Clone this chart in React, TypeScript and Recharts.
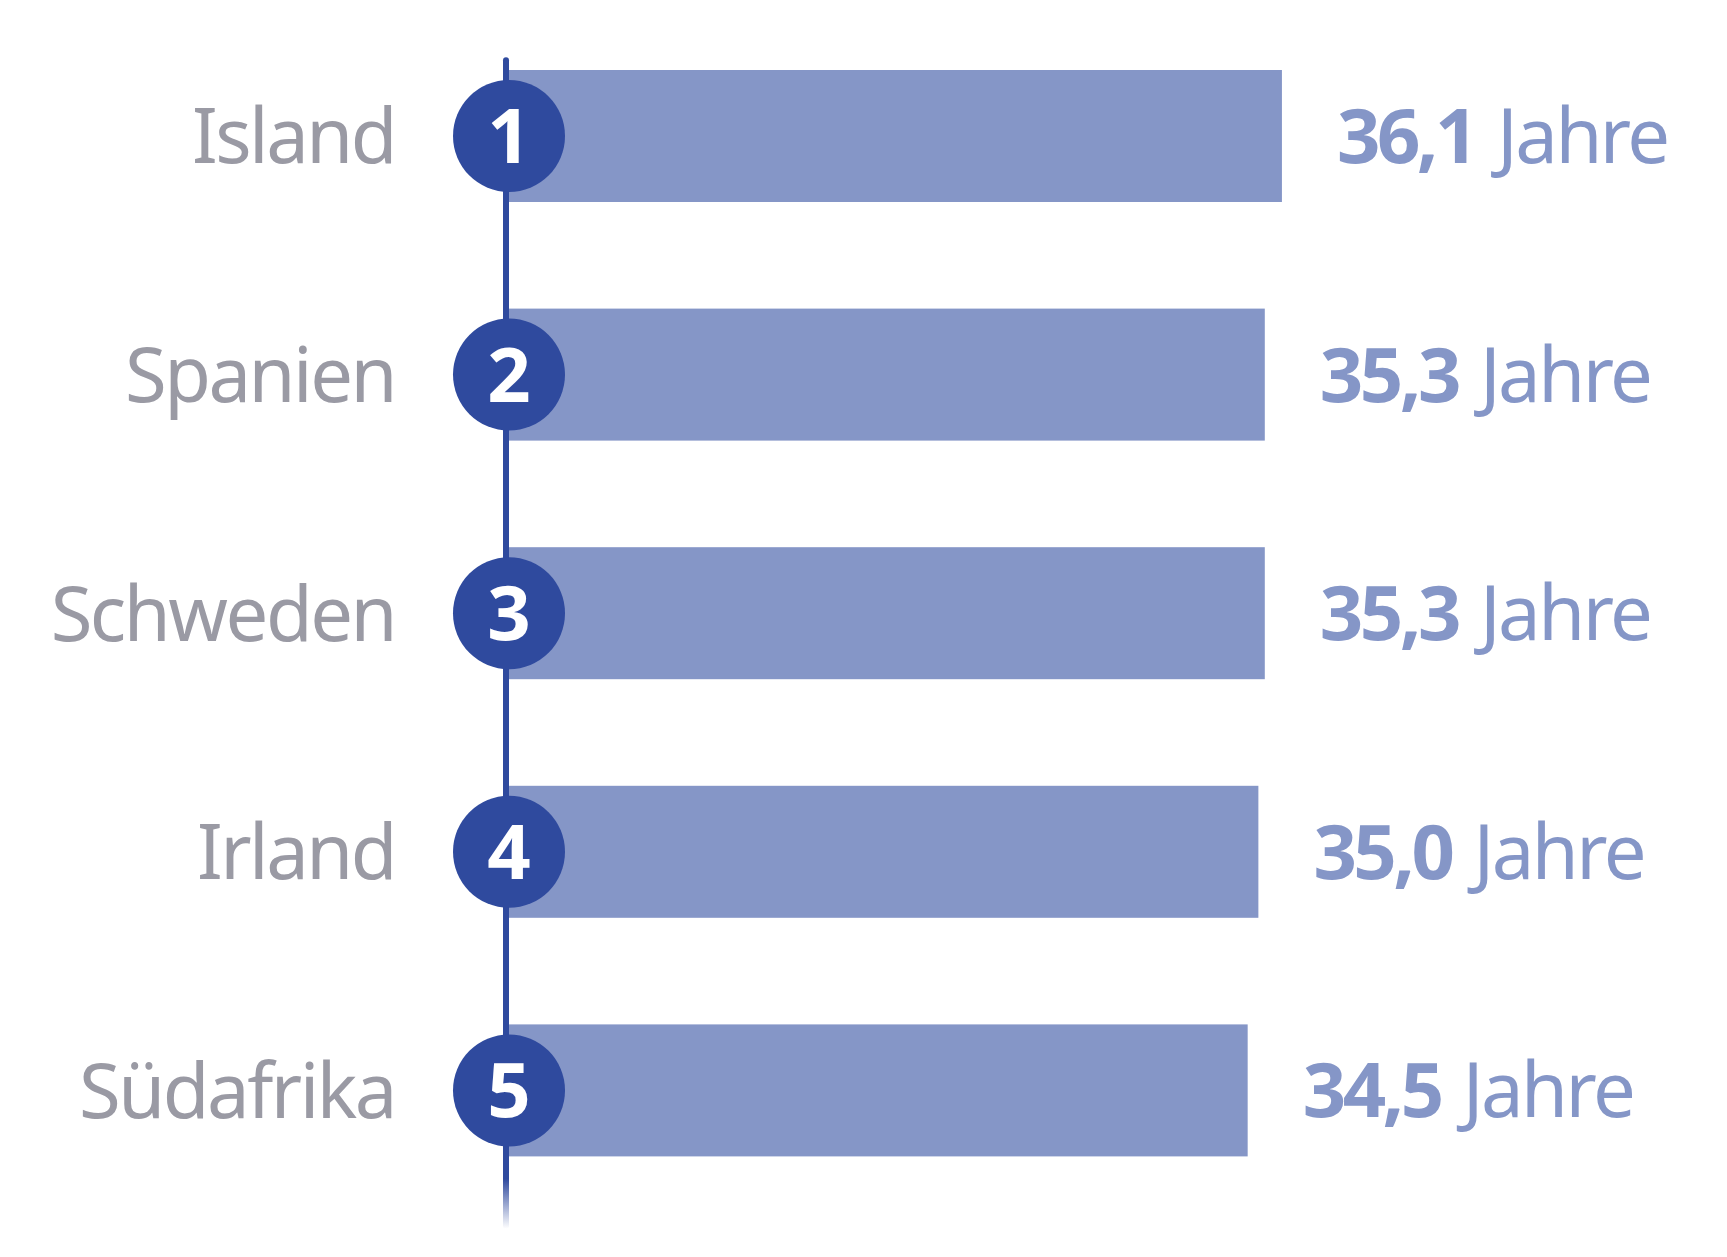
import React from 'react';
import { BarChart, Bar, XAxis, YAxis, LabelList } from 'recharts';

const countries = ['Island', 'Spanien', 'Schweden', 'Irland', 'Südafrika'];
const medianAge = [36.1, 35.3, 35.3, 35.0, 34.5];
const ranks = ['1', '2', '3', '4', '5'];
const ageLabels = ['36,1', '35,3', '35,3', '35,0', '34,5'];
const unitLabel = 'Jahre';

const data = countries.map((country, i) => ({
  country,
  age: medianAge[i],
  rank: ranks[i],
  ageLabel: ageLabels[i],
}));

const BAR = '#8596c7';
const DARK = '#2f4a9e';
const GRAY = '#9a9aa4';
const FONT = '"Noto Sans", sans-serif';

const CHART_W = 1727;
const CHART_H = 1257;
const MARGIN = { top: 17, right: 19, bottom: 47, left: 0 };
const BAND_STEP = (CHART_H - MARGIN.top - MARGIN.bottom) / data.length;

function CountryTick(props: any) {
  const { x, y, payload } = props;
  return (
    <text x={x} y={y + 27} textAnchor="end" fill={GRAY} fontFamily={FONT} fontSize={76} letterSpacing={-2.5}>
      {payload.value}
    </text>
  );
}

function RowShape(props: any) {
  const { x, y, width, height, index, payload } = props;
  const cy = y + height / 2;
  const step = BAND_STEP;
  const n = data.length;
  const lineTop = cy - 0.33 * step;
  const lineBottom = cy + (n - 1) * step + 0.58 * step;
  return (
    <g>
      {index === 0 && (
        <>
          <defs>
            <linearGradient id="lineFade" gradientUnits="userSpaceOnUse" x1={0} y1={lineBottom - 50} x2={0} y2={lineBottom}>
              <stop offset="0" stopColor={DARK} stopOpacity={1} />
              <stop offset="1" stopColor={DARK} stopOpacity={0} />
            </linearGradient>
          </defs>
          <rect x={x - 6} y={lineTop} width={6} height={lineBottom - lineTop} rx={3} fill="url(#lineFade)" />
        </>
      )}
      <rect x={x} y={y} width={width} height={height} fill={BAR} />
      <circle cx={x} cy={cy} r={56} fill={DARK} />
      <text x={x} y={cy + 27} textAnchor="middle" fill="#ffffff" fontFamily={FONT} fontWeight={700} fontSize={76}>
        {payload.rank}
      </text>
    </g>
  );
}

function ValueLabel(props: any) {
  const { x, y, width, height, value } = props;
  return (
    <text x={x + width + 55} y={y + height / 2 + 27} fill={BAR} fontFamily={FONT} fontSize={76}>
      <tspan fontWeight={700} letterSpacing={-3.5}>{value}</tspan>
      <tspan dx={22} letterSpacing={-2.5}>{unitLabel}</tspan>
    </text>
  );
}

export default function App() {
  return (
    <div style={{ position: 'absolute', left: 0, top: 0, width: CHART_W, height: CHART_H, background: '#fff' }}>
      <BarChart width={CHART_W} height={CHART_H} data={data} layout="vertical" margin={MARGIN}>
        <XAxis type="number" domain={[0, 56]} hide />
        <YAxis
          type="category"
          dataKey="country"
          width={509}
          tickLine={false}
          axisLine={false}
          tickSize={0}
          tickMargin={114}
          tick={<CountryTick />}
        />
        <Bar dataKey="age" barSize={132} fill={BAR} isAnimationActive={false} shape={RowShape}>
          <LabelList dataKey="ageLabel" content={ValueLabel} />
        </Bar>
      </BarChart>
    </div>
  );
}
